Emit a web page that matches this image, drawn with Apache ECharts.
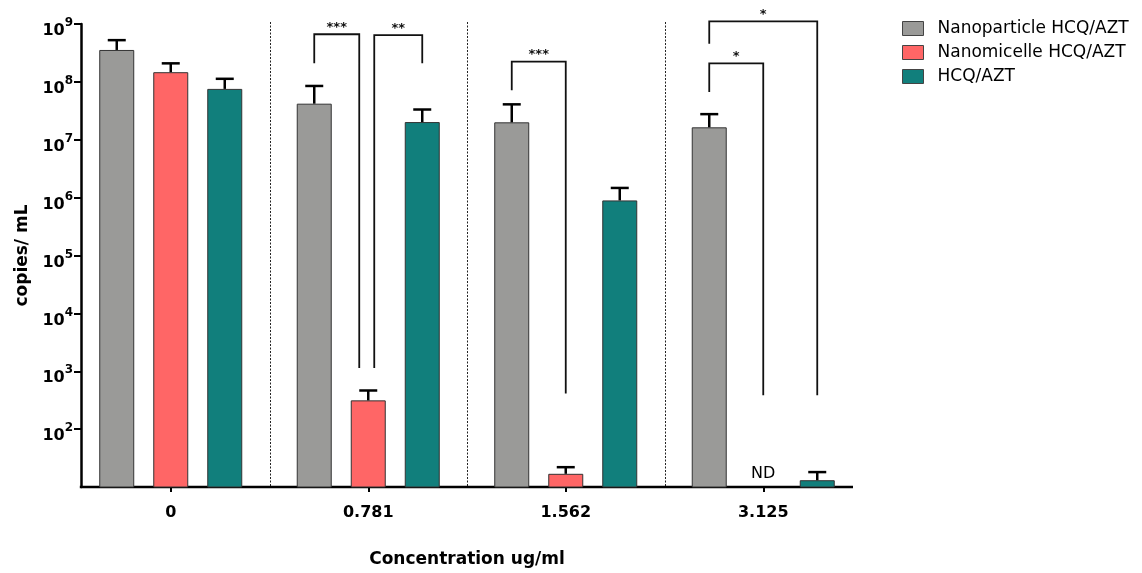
<!DOCTYPE html>
<html><head><meta charset="utf-8">
<script src="https://cdn.jsdelivr.net/npm/echarts@6/dist/echarts.min.js"></script>
<style>html,body{margin:0;padding:0;background:#fff}#c{width:1142px;height:573px}</style>
</head><body><div id="c"></div>
<script>
// ---------- data ----------
const categories = ['0', '0.781', '1.562', '3.125'];
const seriesNames = ['Nanoparticle HCQ/AZT', 'Nanomicelle HCQ/AZT', 'HCQ/AZT'];
const nanoparticle    = [3.56e8, 4.2e7, 2.0e7, 1.64e7];
const nanoparticleErr = [5.26e8, 8.5e7, 4.09e7, 2.77e7];
const nanomicelle     = [1.47e8, 314, 16.9, null];
const nanomicelleErr  = [2.09e8, 465, 22, null];
const hcqAzt          = [7.56e7, 2.02e7, 8.95e5, 13.1];
const hcqAztErr       = [1.13e8, 3.33e7, 1.47e6, 18.1];
const yTickValues = [1e2, 1e3, 1e4, 1e5, 1e6, 1e7, 1e8, 1e9];
const notDetected = [[3, 1, 'ND']];           // [category, series, text]
// [category, fromSeries, toSeries, topValue, leftLegEnd, rightLegEnd, label]
const brackets = [
  [1, 0, 1, 6.65e8, 2.09e8, 1143, '***'],
  [1, 1, 2, 6.4e8, 1143, 2.09e8, '**'],
  [2, 0, 1, 2.23e8, 7.17e7, 413, '***'],
  [3, 0, 1, 2.09e8, 6.7e7, 386, '*'],
  [3, 0, 2, 1.11e9, 4.57e8, 386, '*']
];

// ---------- style / layout ----------
const FONT = 'DejaVu Sans';
const COLORS = ['#9a9a98', '#ff6666', '#117f7c'];
const BAR_W = 35, BAR_STEP = 54, Y_MIN = 10, Y_MAX = 1e9, Y_OFF = 9;
const values = [nanoparticle, nanomicelle, hcqAzt];
const errs = [nanoparticleErr, nanomicelleErr, hcqAztErr];

const errData = [];
values.forEach((arr, s) => arr.forEach((v, c) => {
  if (v != null) errData.push([c, s, v, errs[s][c]]);
}));

function barX(api, c, s) {
  return api.coord([c, Y_MAX])[0] + (s - 1) * BAR_STEP;
}

const barSeries = seriesNames.map((name, s) => ({
  name, type: 'bar', data: values[s].map(v => v == null ? '-' : v),
  barWidth: BAR_W, barGap: ((BAR_STEP - BAR_W) / BAR_W * 100).toFixed(1) + '%',
  clip: true,
  itemStyle: { color: COLORS[s], borderColor: '#333', borderWidth: 1 },
  z: 2
}));

const option = {
  animation: false,
  backgroundColor: '#fff',
  textStyle: { fontFamily: FONT },
  grid: { left: 72, top: 24, width: 790, height: 471, containLabel: false },
  legend: {
    data: seriesNames, orient: 'vertical', left: 897, top: 15,
    itemWidth: 21, itemHeight: 14, itemGap: 7,
    icon: 'rect',
    itemStyle: { borderColor: '#444', borderWidth: 1 },
    textStyle: { fontFamily: FONT, fontSize: 17, color: '#000', padding: [0, 0, 0, 9] }
  },
  xAxis: {
    type: 'category', data: categories,
    axisLine: { show: false },
    axisTick: { show: true, alignWithLabel: true, length: 5, lineStyle: { color: '#000', width: 2 } },
    axisLabel: { margin: 18, fontFamily: FONT, fontSize: 16, fontWeight: 'bold', color: '#000' },
    name: 'Concentration ug/ml', nameLocation: 'middle', nameGap: 64,
    nameTextStyle: { fontFamily: FONT, fontSize: 17, fontWeight: 'bold', color: '#000' },
    splitLine: { show: false }
  },
  yAxis: {
    type: 'log', logBase: 10, min: Y_MIN, max: Y_MAX, offset: -Y_OFF,
    axisLine: { show: true, lineStyle: { color: '#000', width: 2.5 } },
    axisTick: { show: true, length: 7, customValues: yTickValues, lineStyle: { color: '#000', width: 2 } },
    axisLabel: {
      customValues: yTickValues, margin: 8, padding: [8, 0, 0, 0],
      formatter: v => '{b|10}{s|' + Math.round(Math.log10(v)) + '}',
      rich: {
        b: { fontFamily: FONT, fontSize: 16, fontWeight: 'bold', color: '#000', lineHeight: 22, verticalAlign: 'bottom' },
        s: { fontFamily: FONT, fontSize: 12, fontWeight: 'bold', color: '#000', lineHeight: 22, verticalAlign: 'top' }
      }
    },
    splitLine: { show: false },
    name: 'copies/ mL', nameLocation: 'middle', nameGap: 50,
    nameTextStyle: { fontFamily: FONT, fontSize: 17, fontWeight: 'bold', color: '#000' }
  },
  series: [
    ...barSeries,
    {
      type: 'custom', name: 'frame', data: [[0, Y_MIN]], silent: true, z: 1,
      encode: { x: 0, y: 1 },
      renderItem(params, api) {
        const cs = params.coordSys;
        const children = [];
        const catW = api.size([1, 0])[0];
        const topY = api.coord([0, Y_MAX])[1] - 2;
        const botY = cs.y + cs.height;
        for (let k = 0; k < categories.length - 1; k++) {
          const x = Math.round(api.coord([k, Y_MAX])[0] + catW / 2) + 0.5;
          children.push({ type: 'line', shape: { x1: x, y1: topY, x2: x, y2: botY },
            style: { stroke: '#222', lineWidth: 1, lineDash: [2, 1.5] } });
        }
        children.push({ type: 'line', shape: { x1: cs.x + Y_OFF - 1.2, y1: botY, x2: cs.x + cs.width - Y_OFF, y2: botY },
          style: { stroke: '#000', lineWidth: 2.5 }, z2: 10 });
        return { type: 'group', children };
      }
    },
    {
      type: 'custom', name: 'errors', data: errData, silent: true, z: 3,
      encode: { x: 0, y: 3 },
      renderItem(params, api) {
        const c = api.value(0), s = api.value(1);
        const x = barX(api, c, s);
        const y0 = api.coord([c, api.value(2)])[1];
        const y1 = api.coord([c, api.value(3)])[1];
        const st = { stroke: '#000', lineWidth: 2.5 };
        return { type: 'group', children: [
          { type: 'line', shape: { x1: x, y1: y0, x2: x, y2: y1 }, style: st },
          { type: 'line', shape: { x1: x - 9, y1: y1, x2: x + 9, y2: y1 }, style: st }
        ] };
      }
    },
    {
      type: 'custom', name: 'nd', data: notDetected.map((d, i) => [d[0], Y_MIN, d[1], i]), silent: true, z: 3,
      encode: { x: 0, y: 1 },
      renderItem(params, api) {
        const c = api.value(0), s = api.value(2), i = api.value(3);
        const x = barX(api, c, s);
        const y = api.coord([c, Y_MIN])[1] - 5;
        return { type: 'text', style: { text: notDetected[i][2], x, y, align: 'center', verticalAlign: 'bottom',
          fontFamily: FONT, fontSize: 16, fill: '#000' } };
      }
    },
    {
      type: 'custom', name: 'brackets', data: brackets.map((b, i) => [b[0], b[3], i]), silent: true, z: 4,
      encode: { x: 0, y: 1 },
      renderItem(params, api) {
        const b = brackets[api.value(2)];
        const [c, f, t, top, lEnd, rEnd, label] = b;
        let xl = barX(api, c, f), xr = barX(api, c, t);
        if (brackets.some(o => o !== b && o[0] === c && o[2] === f)) xl += 6;
        if (brackets.some(o => o !== b && o[0] === c && o[1] === t)) xr -= 9;
        const yt = api.coord([c, top])[1];
        const yl = api.coord([c, lEnd])[1];
        const yr = api.coord([c, rEnd])[1];
        const st = { stroke: '#111', lineWidth: 1.8, fill: 'none' };
        return { type: 'group', children: [
          { type: 'polyline', shape: { points: [[xl, yl], [xl, yt], [xr, yt], [xr, yr]] }, style: st },
          { type: 'text', style: { text: label, x: (xl + xr) / 2, y: yt - 7, align: 'center', verticalAlign: 'middle',
            fontFamily: FONT, fontSize: 13, fontWeight: 'bold', fill: '#111' } }
        ] };
      }
    }
  ]
};

const chart = echarts.init(document.getElementById('c'), null, { renderer: 'canvas' });
chart.setOption(option);
</script>
</body></html>
